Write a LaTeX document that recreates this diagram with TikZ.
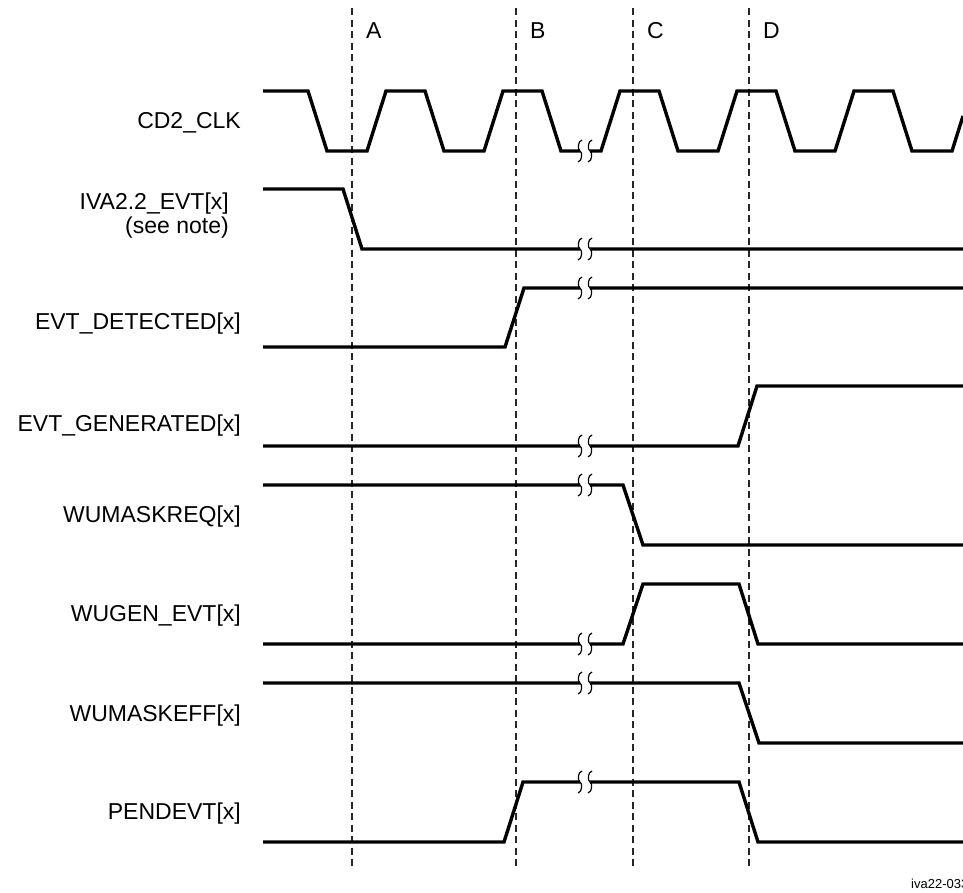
\documentclass[tikz,border=0pt]{standalone}
\usepackage{fontspec}
\setmainfont{Liberation Sans}
\newcommand\brkmark[2]{%
  \fill[white] ({#1-5},{#2-3}) rectangle ({#1+5},{#2+3});
  \foreach \bx in {-5,5}{%
    \draw[brkline] ({#1+\bx+2},{#2-11}) .. controls ({#1+\bx-2.5},{#2-10}) and ({#1+\bx-2.5},{#2-1}) .. ({#1+\bx},{#2})
      .. controls ({#1+\bx+2.5},{#2+1}) and ({#1+\bx+2.5},{#2+10}) .. ({#1+\bx-2},{#2+11});
  }%
}
\begin{document}
\begin{tikzpicture}[x=1pt,y=-1pt,
  sig/.style={line width=3.4pt},
  gridline/.style={line width=1.1pt, dash pattern=on 7pt off 4.5pt, black!85},
  brkline/.style={line width=1.2pt},
  lbl/.style={font=\fontsize{23}{27}\selectfont, inner sep=0pt, anchor=base east},
  phase/.style={font=\fontsize{23}{27}\selectfont, inner sep=0pt, anchor=base west},
  tag/.style={font=\fontsize{13}{15}\selectfont, inner sep=0pt, anchor=base west}]
\useasboundingbox (0,0) rectangle (963,892);

% dashed phase lines and letters
\foreach \gx/\nm in {352/A,516/B,633/C,749/D}{
  \draw[gridline] (\gx,8) -- (\gx,870);
  \node[phase] (ph\nm) at (\gx+14,38) {\nm};
}

% labels
\node[lbl] (lclk) at (241,128) {CD2\_CLK};
\node[lbl] (liva) at (229,209) {IVA2.2\_EVT[x]};
\node[lbl] (lnote) at (229,233) {(see note)};
\node[lbl] (ldet) at (241,329) {EVT\_DETECTED[x]};
\node[lbl] (lgen) at (241,431) {EVT\_GENERATED[x]};
\node[lbl] (lreq) at (241,522) {WUMASKREQ[x]};
\node[lbl] (lwug) at (241,621) {WUGEN\_EVT[x]};
\node[lbl] (leff) at (241,721) {WUMASKEFF[x]};
\node[lbl] (lpen) at (241,819) {PENDEVT[x]};
\node[tag] (fig) at (911,888) {iva22-033};

% CD2_CLK
\draw[sig] (263,91) -- (308,91) -- (327,151) -- (367,151) -- (386,91) -- (425,91) -- (444,151)
  -- (484,151) -- (503,91) -- (542,91) -- (561,151) -- (601,151) -- (620,91) -- (659,91)
  -- (678,151) -- (718,151) -- (737,91) -- (776,91) -- (795,151) -- (835,151) -- (854,91)
  -- (893,91) -- (912,151) -- (952,151) -- (963,116);
% IVA2.2_EVT
\draw[sig] (263,189) -- (343,189) -- (362,249) -- (963,249);
% EVT_DETECTED
\draw[sig] (263,347) -- (505,347) -- (524,288) -- (963,288);
% EVT_GENERATED
\draw[sig] (263,446) -- (738,446) -- (757,386) -- (963,386);
% WUMASKREQ
\draw[sig] (263,485) -- (623,485) -- (643,545) -- (963,545);
% WUGEN_EVT
\draw[sig] (263,644) -- (623,644) -- (643,584) -- (739,584) -- (758,644) -- (963,644);
% WUMASKEFF
\draw[sig] (263,683) -- (739,683) -- (759,743) -- (963,743);
% PENDEVT
\draw[sig] (263,842) -- (504,842) -- (523,782) -- (739,782) -- (758,842) -- (963,842);

% break marks
\foreach \by in {151,249,288,446,485,644,683,782}{
  \brkmark{585}{\by}
}
\end{tikzpicture}
\end{document}
